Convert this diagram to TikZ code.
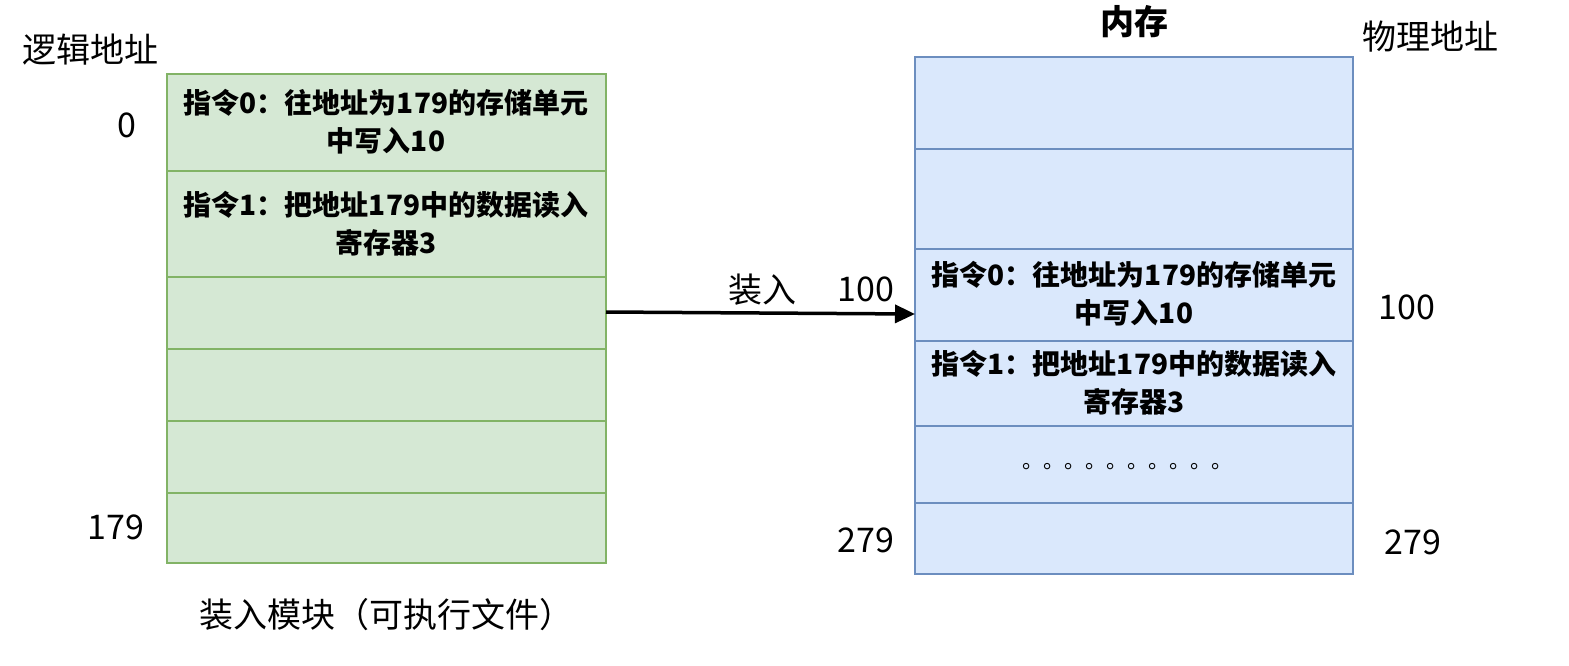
\documentclass[tikz,border=0pt]{standalone}
\usepackage{fontspec}
\setmainfont{Noto Sans CJK SC}
\usetikzlibrary{arrows.meta}
\begin{document}
\begin{tikzpicture}[x=1pt,y=-1pt,
 gbox/.style={draw=gs,fill=gf,line width=1.2pt},
 bbox/.style={draw=bs,fill=bf,line width=1.2pt},
 lab/.style={font=\fontsize{34}{40}\selectfont},
 cell/.style={font=\fontsize{28}{38}\selectfont\bfseries,align=center,text width=440pt}]
\definecolor{gs}{HTML}{82B366}\definecolor{gf}{HTML}{D5E8D4}
\definecolor{bs}{HTML}{6C8EBF}\definecolor{bf}{HTML}{DAE8FC}
\useasboundingbox[fill=white] (0,0) rectangle (1569,665);
% left
\foreach \a/\b [count=\i] in {74/171,171/277,277/349,349/421,421/493,493/563}
  \draw[gbox] (167,\a) rectangle (606,\b) coordinate (g\i);
\node[cell] (l1) at (386,122) {指令0：往地址为179的存储单元\\中写入10};
\node[cell] (l2) at (386,224) {指令1：把地址179中的数据读入\\寄存器3};
\node[lab] (ll) at (91,50) {逻辑地址};
\node[lab] (l0) at (127,125) {0};
\node[lab] (l179) at (116,527) {179};
\node[lab] (lm) at (386,615) {装入模块（可执行文件）};
% right
\foreach \a/\b [count=\i] in {57/149,149/249,249/341,341/426,426/503,503/574}
  \draw[bbox] (915,\a) rectangle (1353,\b) coordinate (b\i);
\node[cell] (r1) at (1134,294) {指令0：往地址为179的存储单元\\中写入10};
\node[cell] (r2) at (1134,383) {指令1：把地址179中的数据读入\\寄存器3};
\node[lab,font=\fontsize{21}{24}\selectfont] (dots) at (1127,467) {。。。。。。。。。。};
\node[lab,font=\fontsize{34}{40}\selectfont\bfseries] (nc) at (1134,22) {内存};
\node[lab] (pa) at (1430,37) {物理地址};
\node[lab] (p100a) at (866,289) {100};
\node[lab] (p100b) at (1407,307) {100};
\node[lab] (p279a) at (866,540) {279};
\node[lab] (p279b) at (1413,542) {279};
\coordinate (s) at (606,312); \coordinate (t) at (915,314);
\draw[line width=3.5pt,-{Triangle[length=20pt,width=18pt]}] (s) -- (t);
\node[lab] (zr) at (762,290) {装入};
\end{tikzpicture}
\end{document}
